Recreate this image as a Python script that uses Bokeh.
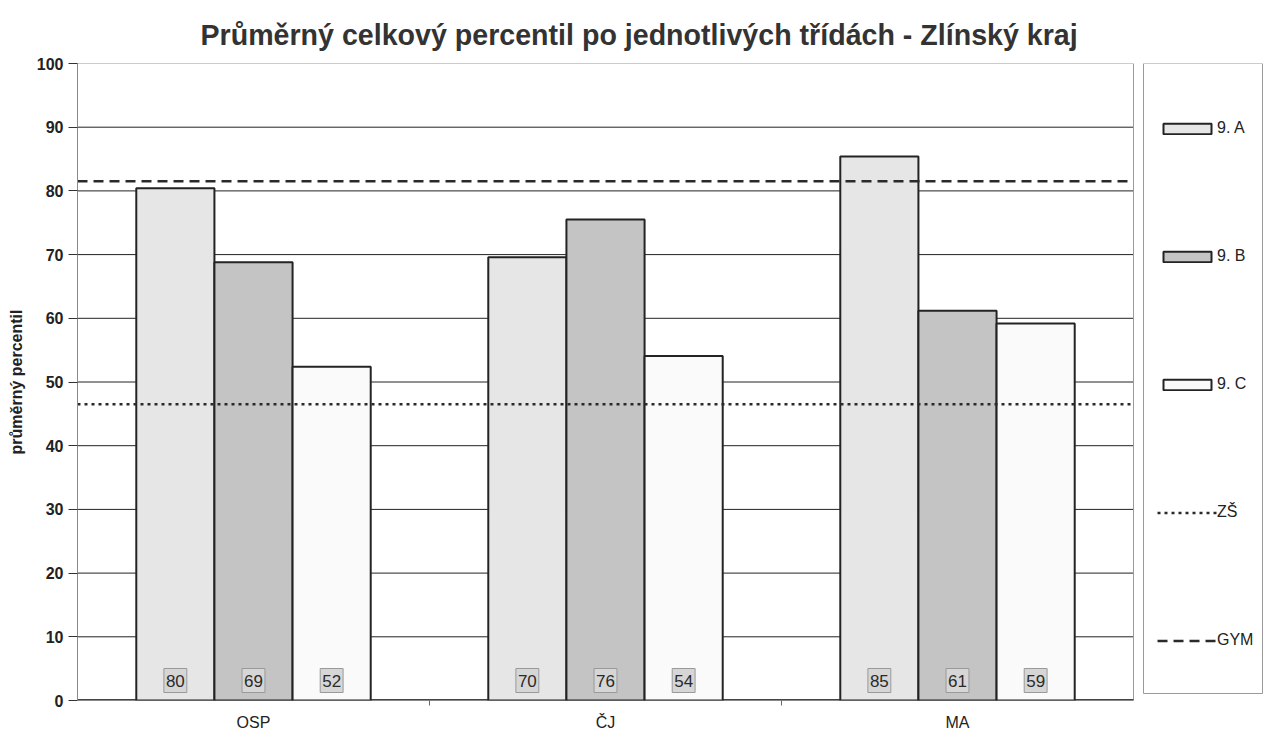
from bokeh.plotting import figure
from bokeh.models import ColumnDataSource, FixedTicker, Legend, LegendItem
from bokeh.core.properties import value
from bokeh.embed import file_html
from bokeh.resources import INLINE

categories = ["OSP", "ČJ", "MA"]
class_names = ["9. A", "9. B", "9. C"]
values_9A = [80.4, 69.6, 85.4]
values_9B = [68.8, 75.5, 61.2]
values_9C = [52.4, 54.1, 59.2]
labels_9A = ["80", "70", "85"]
labels_9B = ["69", "76", "61"]
labels_9C = ["52", "54", "59"]
zs_level = 46.5
gym_level = 81.5
y_ticks = [0, 10, 20, 30, 40, 50, 60, 70, 80, 90, 100]

FONT = "Liberation Sans"
W, H = 1264, 733
FRAME_L, FRAME_T, FRAME_B = 77, 63, 700
PX_PER_CAT = 352.0            # pixel width of one category slot
n_cat = len(categories)
x_end = (W - FRAME_L) / PX_PER_CAT   # frame extends to the right edge to host the legend box
centers = [i + 0.5 for i in range(n_cat)]
bar_w = 0.222
offsets = [-bar_w, 0.0, bar_w]
fills = ["#e6e6e6", "#c4c4c4", "#fafafa"]
series = [values_9A, values_9B, values_9C]
series_labels = [labels_9A, labels_9B, labels_9C]
px_per_unit_y = (FRAME_B - FRAME_T) / 100.0

p = figure(width=W, height=H, x_range=(0, x_end), y_range=(0, 100),
           output_backend="svg", toolbar_location=None,
           min_border_left=FRAME_L, min_border_right=0,
           min_border_top=FRAME_T, min_border_bottom=H - FRAME_B)

p.title.text = "Průměrný celkový percentil po jednotlivých třídách - Zlínský kraj"
p.title.text_font = FONT
p.title.text_font_size = "28.6px"
p.title.text_font_style = "bold"
p.title.text_color = "#333333"
p.title.align = "left"
p.title.offset = 123
p.title.standoff = 25

p.background_fill_color = "white"
p.border_fill_color = "white"
p.outline_line_color = None
p.xgrid.grid_line_color = None
p.ygrid.grid_line_color = None

p.yaxis.ticker = FixedTicker(ticks=y_ticks)
p.yaxis.axis_label = "průměrný percentil"
p.yaxis.axis_label_text_font = FONT
p.yaxis.axis_label_text_font_size = "16px"
p.yaxis.axis_label_text_font_style = "bold"
p.yaxis.axis_label_text_color = "#222222"
p.yaxis.axis_label_standoff = 9
p.yaxis.major_label_text_font = FONT
p.yaxis.major_label_text_font_size = "16px"
p.yaxis.major_label_text_font_style = "bold"
p.yaxis.major_label_text_color = "#222222"
p.yaxis.major_tick_out = 9
p.yaxis.major_tick_in = 0
p.yaxis.major_tick_line_color = "#333333"
p.yaxis.minor_tick_line_color = None
p.yaxis.axis_line_color = "#8a8a8a"
p.yaxis.major_label_standoff = 5

p.xaxis.ticker = FixedTicker(ticks=centers, minor_ticks=[1, 2])
p.xaxis.major_label_overrides = {c: name for c, name in zip(centers, categories)}
p.xaxis.major_label_text_font = FONT
p.xaxis.major_label_text_font_size = "16px"
p.xaxis.major_label_text_color = "#222222"
p.xaxis.major_tick_line_color = None
p.xaxis.major_tick_out = 0
p.xaxis.major_tick_in = 0
p.xaxis.minor_tick_out = 5
p.xaxis.minor_tick_in = 0
p.xaxis.minor_tick_line_color = "#666666"
p.xaxis.axis_line_color = None
p.xaxis.major_label_standoff = 8

# horizontal gridlines and plot-area border, limited to the category area
grid_y = y_ticks[1:-1]
p.segment(x0=[0] * len(grid_y), x1=[n_cat] * len(grid_y), y0=grid_y, y1=grid_y,
          line_color="#222222", line_width=1)
p.quad(left=0, right=n_cat, bottom=0, top=100, fill_color=None,
       line_color="#9a9a9a", line_width=1)
p.segment(x0=[0], x1=[n_cat], y0=[0], y1=[0], line_color="#444444", line_width=3)

# legend box (drawn in data space to the right of the category area)
leg_left = (1143 - FRAME_L) / PX_PER_CAT
leg_right = (1262 - FRAME_L) / PX_PER_CAT
leg_bottom = (FRAME_B - 693) / px_per_unit_y
p.quad(left=leg_left, right=leg_right, bottom=leg_bottom, top=100,
       fill_color="white", line_color="#9a9a9a", line_width=1)

bar_renderers = []
label_sources = []
for k in range(3):
    src = ColumnDataSource(dict(
        x=[c + offsets[k] for c in centers],
        top=series[k],
        lab=series_labels[k],
    ))
    r = p.vbar(x="x", top="top", bottom=0, width=bar_w, source=src,
               fill_color=fills[k], line_color="#232323", line_width=2)
    bar_renderers.append(r)
    label_sources.append(src)

zs = p.line(x=[0, n_cat], y=[zs_level, zs_level], line_color="#2a2a2a",
            line_width=2.5, line_dash="3 4")
gym = p.line(x=[0, n_cat], y=[gym_level, gym_level], line_color="#2a2a2a",
             line_width=2.5, line_dash="10 6")

for src in label_sources:
    p.text(x="x", y=0, text="lab", source=src, text_align="center",
           text_baseline="bottom", y_offset=-8,
           text_font=value(FONT), text_font_size="17px", text_color="#2a2a2a",
           background_fill_color="#d6d6d6", border_line_color="#9a9a9a",
           border_line_width=1, padding=(2, 6))

legend = Legend(items=[
    LegendItem(label=class_names[0], renderers=[bar_renderers[0]]),
    LegendItem(label=class_names[1], renderers=[bar_renderers[1]]),
    LegendItem(label=class_names[2], renderers=[bar_renderers[2]]),
    LegendItem(label="ZŠ", renderers=[zs]),
    LegendItem(label="GYM", renderers=[gym]),
], location=(1080, 50))
legend.glyph_width = 60
legend.glyph_height = 13
legend.label_height = 20
legend.label_standoff = 0
legend.padding = 0
legend.spacing = 108
legend.margin = 0
legend.label_text_font = FONT
legend.label_text_font_size = "16px"
legend.label_text_color = "#222222"
legend.border_line_color = None
legend.background_fill_alpha = 0
p.add_layout(legend, "center")

open("out.html", "w").write(file_html(p, INLINE))
